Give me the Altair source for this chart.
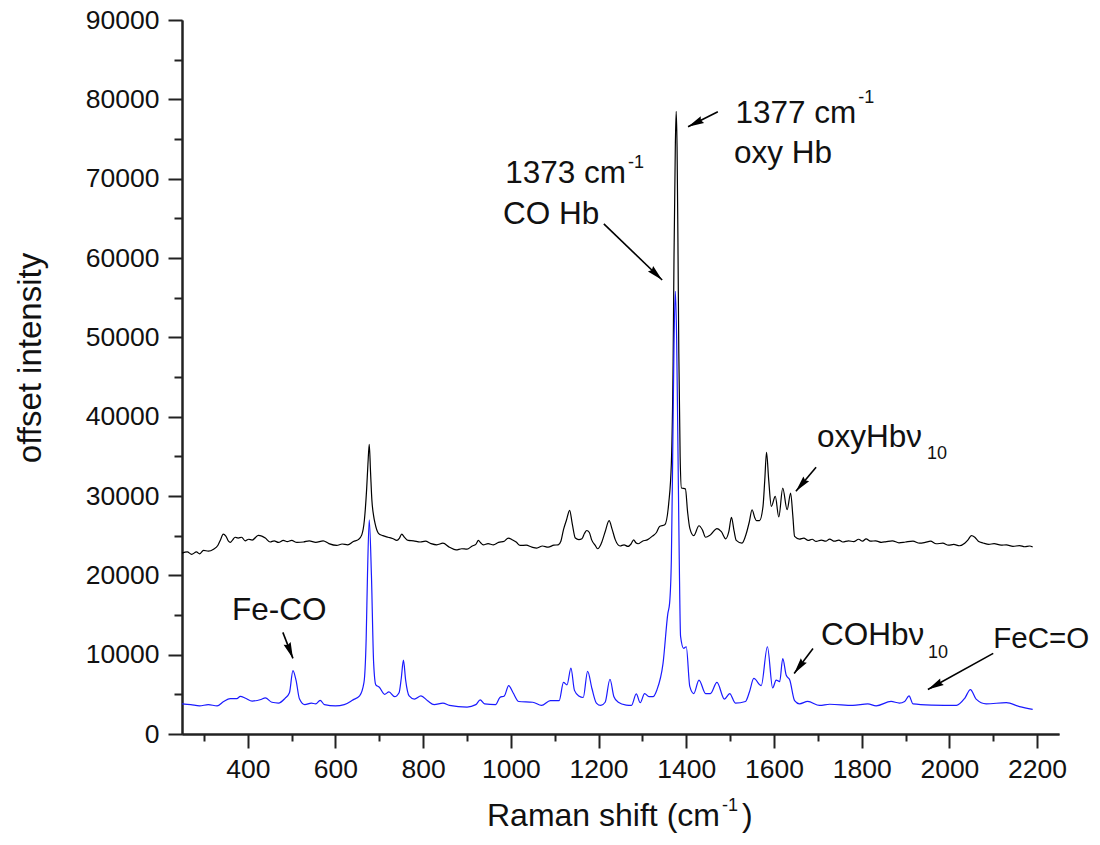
import math
import altair as alt
import pandas as pd

FONT = "Liberation Sans"

black_x = [250,262,272,283,290,299,310,322,332,338,344,350,356,360,366,371,378,386,394,402,410,424,432,440,451,460,470,481,490,500,512,527,540,555,572,585,603,615,628,641,652,660,666,671,674,677,680,683,687,690,698,708,720,730,740,746,751,758,766,778,793,805,818,831,845,860,875,888,900,912,920,926,931,937,948,960,972,985,994,1004,1012,1021,1035,1048,1059,1072,1085,1098,1108,1114,1120,1127,1134,1140,1147,1155,1162,1168,1173,1179,1184,1192,1198,1206,1215,1224,1231,1238,1249,1258,1267,1274,1280,1285,1290,1300,1312,1324,1332,1339,1351,1360,1366,1370,1372,1375,1377,1379,1381,1383,1386,1389,1398,1403,1408,1417,1429,1437,1444,1455,1470,1480,1490,1497,1503,1509,1514,1527,1537,1544,1550,1556,1560,1567,1575,1579,1583,1588,1594,1603,1611,1620,1630,1638,1643,1647,1658,1668,1678,1687,1696,1708,1718,1727,1738,1748,1757,1770,1782,1793,1802,1810,1820,1832,1845,1856,1870,1885,1900,1917,1932,1945,1957,1970,1985,1998,2010,2023,2035,2043,2050,2058,2066,2077,2090,2102,2118,2130,2145,2160,2172,2183,2190]
black_y = [22800,22950,22650,22950,22700,23140,23050,23300,23800,24500,25200,24950,24300,24150,24500,24800,24700,24800,24350,24550,24450,25030,24950,24700,24200,24350,24150,24400,24250,24400,24150,24200,24350,24150,24350,24000,23770,23950,23850,24270,24500,25100,27000,30800,34000,36500,33000,29500,27500,26600,25300,25000,24800,24650,24400,24700,25200,24750,24400,24350,24200,24300,24000,23850,24050,23550,23200,23350,23300,23700,23900,24400,24100,23850,24000,23850,24150,24300,24700,24450,24200,23770,23800,23550,23430,23700,23550,23800,23850,24300,25750,27000,28200,26500,24700,24500,24600,25300,25650,25400,24500,23800,23350,24000,25500,26900,25800,24500,23700,23850,23640,23950,24480,24100,23980,24300,24500,25000,25400,26170,26380,29100,34150,47000,60000,74000,78500,74000,62000,48000,35000,31000,30900,28000,25950,25000,26250,25700,24800,25100,25900,25500,24600,25500,27300,25600,24400,24060,25300,26800,28270,27300,26900,26900,28700,32000,35500,32000,28700,29950,27350,31000,28270,30370,27500,24900,24570,24700,24400,24550,24270,24450,24300,24570,24300,24450,24200,24350,24250,24550,24300,24600,24300,24350,24150,24250,24350,24100,24200,24300,24050,24150,24300,23980,24050,23800,23900,23730,24050,24500,25000,24800,24300,24080,23900,24000,23800,23850,23650,23750,23600,23700,23560]

blue_x = [250,270,290,310,330,345,360,375,383,395,410,430,440,455,470,485,495,503,510,518,530,545,555,565,575,600,620,640,655,665,670,673,677,682,687,692,700,712,722,735,745,750,755,760,768,780,795,810,825,845,860,900,920,930,940,965,975,985,995,1005,1018,1050,1070,1090,1110,1120,1128,1137,1145,1155,1165,1175,1185,1195,1205,1215,1226,1235,1245,1263,1275,1286,1295,1305,1315,1324,1333,1347,1358,1362,1366,1369,1372,1375,1378,1381,1384,1387,1394,1400,1408,1417,1429,1444,1455,1470,1487,1499,1512,1535,1544,1554,1571,1585,1597,1605,1613,1620,1628,1636,1647,1658,1677,1704,1727,1780,1814,1833,1867,1886,1898,1908,1917,1960,2016,2035,2048,2061,2084,2130,2160,2190]
blue_y = [3800,3700,3550,3700,3550,4100,4450,4450,4750,4500,4150,4350,4550,4000,3900,4500,5200,8000,6800,4400,3700,3900,3800,4250,3700,3550,3700,4300,4800,6500,12000,20000,27000,20000,9000,6200,5900,5000,5300,4700,5200,7000,9300,6800,4800,4400,4800,4200,3700,3900,3600,3400,3700,4300,3800,3700,4600,4800,6100,5200,4100,4000,3600,4200,4200,6500,6200,8300,5500,4800,4600,7900,5700,3900,3600,4000,6900,4700,4000,3650,3600,5050,3950,5100,4700,4700,5550,8900,15200,16500,22000,35000,49000,55800,50000,36000,22000,12300,10800,11000,6000,5100,6800,5100,5100,6500,4400,5100,3900,4100,5300,7000,6100,11000,5800,6800,6600,9500,7400,6800,4200,3800,4100,3600,3750,3600,3800,3550,4100,3900,4100,4800,3800,3650,3600,4500,5600,4400,3800,3950,3450,3100]

# arrow start and tip, in data units
arrow_x0 = [1472, 1212, 480, 1696, 1689, 2100]
arrow_y0 = [78430, 64300, 12810, 33630, 10790, 10160]
arrow_x1 = [1404, 1345, 503, 1650, 1646, 1951]
arrow_y1 = [76540, 57230, 9530, 30600, 7635, 5616]

# big labels, in data units
label_text = ["1377 cm", "oxy Hb", "1373 cm", "CO Hb", "Fe-CO", "oxyHbν", "COHbν"]
label_x = [1512, 1509, 987, 982, 364, 1698, 1707]
label_y = [77045, 72000, 69470, 64300, 14320, 36150, 11170]
edge_text = ["FeC=O"]
edge_x = [2100]
edge_y = [10790]
small_text = ["-1", "-1", "10", "10"]
small_x = [1792, 1267, 1949, 1951]
small_y = [79580, 71370, 34640, 9530]

x_major = [400, 600, 800, 1000, 1200, 1400, 1600, 1800, 2000, 2200]
x_minor = [300, 500, 700, 900, 1100, 1300, 1500, 1700, 1900, 2100]
y_major = [0, 10000, 20000, 30000, 40000, 50000, 60000, 70000, 80000, 90000]
y_minor = [5000, 15000, 25000, 35000, 45000, 55000, 65000, 75000, 85000]

W, H = 877, 714
x_scale = alt.Scale(domain=[250, 2250], nice=False, zero=False)
y_scale = alt.Scale(domain=[0, 90000], nice=False, zero=False)

df_black = pd.DataFrame({"x": black_x, "y": black_y})
df_blue = pd.DataFrame({"x": blue_x, "y": blue_y})

def heading(x0, y0, x1, y1):
    dx = (x1 - x0) * W / 2000
    dy = (y1 - y0) * H / 90000
    return (math.degrees(math.atan2(dx, dy)) + 360) % 360

df_arrow = pd.DataFrame({
    "x0": arrow_x0, "y0": arrow_y0, "x1": arrow_x1, "y1": arrow_y1,
    "ang": [heading(*a) for a in zip(arrow_x0, arrow_y0, arrow_x1, arrow_y1)],
})
df_label = pd.DataFrame({"t": label_text, "x": label_x, "y": label_y})
df_edge = pd.DataFrame({"t": edge_text, "x": edge_x, "y": edge_y})
df_small = pd.DataFrame({"t": small_text, "x": small_x, "y": small_y})

axis_common = dict(
    domainColor="#222", domainWidth=2, tickColor="#222", tickWidth=2,
    grid=False, title=None,
)
label_style = dict(labelFont=FONT, labelFontSize=26.5, labelColor="#111", format="d", labelOverlap=False)

X = lambda ax: alt.X("x:Q", scale=x_scale, axis=ax)
Y = lambda ax: alt.Y("y:Q", scale=y_scale, axis=ax)

line_black = alt.Chart(df_black).mark_line(color="#000000", strokeWidth=1.2, interpolate="monotone").encode(
    x=X(alt.Axis(orient="bottom", values=x_major, tickSize=14, labelPadding=8, **axis_common, **label_style)),
    y=Y(alt.Axis(orient="left", values=y_major, tickSize=14, labelPadding=9, **axis_common, **label_style)),
)
line_blue = alt.Chart(df_blue).mark_line(color="#1a1aff", strokeWidth=1.2, interpolate="monotone").encode(
    x=X(alt.Axis(orient="bottom", values=x_minor, tickSize=7, labels=False, **axis_common)),
    y=Y(alt.Axis(orient="left", values=y_minor, tickSize=8, labels=False, **axis_common)),
)

arrow_line = alt.Chart(df_arrow).mark_rule(color="#000", strokeWidth=1.6).encode(
    x=alt.X("x0:Q", scale=x_scale, axis=None), y=alt.Y("y0:Q", scale=y_scale, axis=None),
    x2="x1:Q", y2="y1:Q",
)
arrow_head = alt.Chart(df_arrow).mark_point(
    shape="M0,0L0.42,1.8L0,1.6L-0.42,1.8Z", filled=True, color="#000", opacity=1, size=320,
).encode(
    x=alt.X("x1:Q", scale=x_scale, axis=None), y=alt.Y("y1:Q", scale=y_scale, axis=None),
    angle=alt.Angle("ang:Q", scale=None),
)

def text_layer(df, size):
    return alt.Chart(df).mark_text(
        font=FONT, fontSize=size, align="left", baseline="alphabetic", color="#111",
    ).encode(
        x=alt.X("x:Q", scale=x_scale, axis=None), y=alt.Y("y:Q", scale=y_scale, axis=None), text="t:N",
    )

labels = text_layer(df_label, 31.5)
edge = text_layer(df_edge, 29.5)
small = text_layer(df_small, 18)

def fixed(text, x, y, size, angle=0, align="left"):
    return alt.Chart(pd.DataFrame({"t": [text]})).mark_text(
        font=FONT, fontSize=size, align=align, baseline="alphabetic", color="#111", angle=angle,
    ).encode(x=alt.value(x), y=alt.value(y), text="t:N")

titles = [
    fixed("Raman shift (cm", 305, 806, 32),
    fixed("-1", 540, 791, 18),
    fixed(")", 560, 806, 32),
    fixed("offset intensity", -141, 338, 33, angle=270, align="center"),
]

chart = alt.layer(
    line_black, line_blue, arrow_line, arrow_head, labels, edge, small, *titles
).resolve_axis(x="independent", y="independent").properties(
    width=W, height=H,
    autosize=alt.AutoSizeParams(type="none"),
    padding={"left": 174, "top": 12, "right": 33, "bottom": 99},
).configure_view(stroke=None)

chart.save("out.html", embed_options={"renderer": "svg", "actions": False})
